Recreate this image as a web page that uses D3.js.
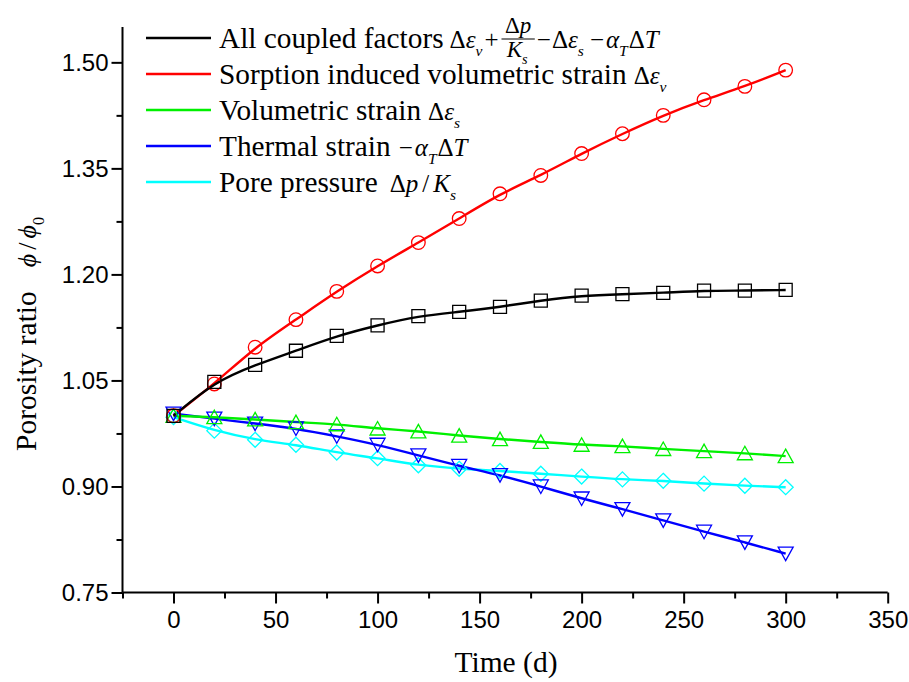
<!DOCTYPE html>
<html>
<head>
<meta charset="utf-8">
<script src="https://cdn.jsdelivr.net/npm/d3@7"></script>
<style>
  body { margin: 0; background: #fff; }
  svg { display: block; }
</style>
</head>
<body>
<svg id="chart" width="909" height="682"></svg>
<script>
// Time steps (days) at which the porosity ratio is reported
const time = [0, 20, 40, 60, 80, 100, 120, 140, 160, 180, 200, 220, 240, 260, 280, 300];

// Porosity ratio φ/φ0 for each mechanism
const allCoupled   = [1.000, 1.048, 1.072, 1.092, 1.113, 1.128, 1.141, 1.147, 1.154, 1.163, 1.170, 1.172, 1.174, 1.177, 1.177, 1.178];
const sorption     = [1.000, 1.045, 1.097, 1.136, 1.176, 1.212, 1.245, 1.279, 1.314, 1.340, 1.371, 1.399, 1.425, 1.447, 1.466, 1.489];
const volumetric   = [1.000, 0.998, 0.995, 0.991, 0.988, 0.982, 0.978, 0.972, 0.967, 0.963, 0.959, 0.957, 0.953, 0.950, 0.947, 0.943];
const thermal      = [1.003, 0.996, 0.989, 0.982, 0.971, 0.959, 0.944, 0.929, 0.916, 0.900, 0.883, 0.868, 0.852, 0.836, 0.821, 0.805];
const porePressure = [0.998, 0.979, 0.966, 0.959, 0.948, 0.940, 0.930, 0.925, 0.922, 0.918, 0.914, 0.910, 0.908, 0.904, 0.901, 0.899];

// Axis ticks
const xTicks = [0, 50, 100, 150, 200, 250, 300, 350];
const xMinorTicks = [-25, 25, 75, 125, 175, 225, 275, 325];
const yTicks = [0.75, 0.90, 1.05, 1.20, 1.35, 1.50];
const yMinorTicks = [0.825, 0.975, 1.125, 1.275, 1.425];

const SERIF = "'Liberation Serif', 'Times New Roman', serif";
const SANS = "'Liberation Sans', Arial, sans-serif";

const svg = d3.select("#chart");

const x = d3.scaleLinear().domain([-25, 350]).range([122.5, 887.7]);
const y = d3.scaleLinear().domain([0.75, 1.55]).range([592.5, 27.0]);

// ---- axes ----
const axisStroke = 2;

const yAxis = svg.append("g").attr("transform", `translate(${x(-25)},0)`)
  .call(d3.axisLeft(y).tickValues(yTicks).tickSize(11).tickPadding(3)
        .tickFormat(d3.format(".2f")));
const yMinor = svg.append("g").attr("transform", `translate(${x(-25)},0)`)
  .call(d3.axisLeft(y).tickValues(yMinorTicks).tickSize(6).tickFormat(""));

const xAxis = svg.append("g").attr("transform", `translate(0,${y(0.75)})`)
  .call(d3.axisBottom(x).tickValues(xTicks).tickSize(11).tickPadding(7)
        .tickFormat(d3.format("d")));
const xMinor = svg.append("g").attr("transform", `translate(0,${y(0.75)})`)
  .call(d3.axisBottom(x).tickValues(xMinorTicks).tickSize(6).tickFormat(""));

[yAxis, yMinor, xAxis, xMinor].forEach(g => {
  g.select(".domain").attr("stroke", "#000").attr("stroke-width", axisStroke);
  g.selectAll(".tick line").attr("stroke", "#000").attr("stroke-width", axisStroke);
  g.selectAll(".tick text").attr("fill", "#000")
    .style("font-family", SANS).style("font-size", "24px");
});
// the minor-tick axes only contribute ticks
yMinor.select(".domain").remove();
xMinor.select(".domain").remove();
// plain spines without end caps
xAxis.select(".domain").attr("d", `M${x(-25)},0H${x(350)}`);
yAxis.select(".domain").attr("d", `M0,${y(0.75)}V${y(1.55)}`);

// ---- rich text helper (plain, italic and subscript pieces laid out left to right) ----
function rich(g, x0, y0, pieces, size) {
  let cx = x0;
  pieces.forEach(p => {
    const fs = p.sub ? size * 0.62 : size;
    const t = g.append("text")
      .attr("x", cx + (p.before || 0))
      .attr("y", y0 + (p.sub ? size * 0.32 : 0))
      .style("font-family", SERIF)
      .style("font-size", fs + "px")
      .style("font-style", p.it ? "italic" : "normal")
      .attr("fill", "#000")
      .text(p.t);
    cx += (p.before || 0) + t.node().getComputedTextLength() + (p.after || 0);
  });
  return cx;
}

// ---- series ----
const series = [
  { values: allCoupled,   color: "#000000", marker: "square" },
  { values: sorption,     color: "#ff0000", marker: "circle" },
  { values: volumetric,   color: "#00f000", marker: "triangleUp" },
  { values: thermal,      color: "#0000ff", marker: "triangleDown" },
  { values: porePressure, color: "#00ffff", marker: "diamond" }
];

const line = d3.line()
  .x((d, i) => x(time[i]))
  .y(d => y(d))
  .curve(d3.curveBasis);

function markerPath(type) {
  switch (type) {
    case "square": return "M-6.5,-6.5H6.5V6.5H-6.5Z";
    case "circle": return "M6.8,0A6.8,6.8 0 1 1 -6.8,0A6.8,6.8 0 1 1 6.8,0Z";
    case "triangleUp": return "M0,-7L7.5,6.5H-7.5Z";
    case "triangleDown": return "M0,7L7.5,-6.5H-7.5Z";
    case "diamond": return "M0,-7.5L7.5,0L0,7.5L-7.5,0Z";
  }
}

// lines first, then hollow markers on top
const plot = svg.append("g");
series.slice().reverse().forEach(s => {
  plot.append("path")
    .datum(s.values)
    .attr("d", line)
    .attr("fill", "none")
    .attr("stroke", s.color)
    .attr("stroke-width", 2.4);
});
series.slice().reverse().forEach(s => {
  plot.append("g").selectAll("path")
    .data(s.values)
    .join("path")
    .attr("transform", (d, i) => `translate(${x(time[i])},${y(d)})`)
    .attr("d", markerPath(s.marker))
    .attr("fill", "none")
    .attr("stroke", s.color)
    .attr("stroke-width", 1.3);
});

// ---- legend ----
const legend = svg.append("g");
const rowY = [38, 74, 110, 146, 182];
const textSize = 29.3;
const mathSize = 25;
const fracSize = 23;
const labels = [
  "All coupled factors",
  "Sorption induced volumetric strain",
  "Volumetric strain",
  "Thermal strain",
  "Pore pressure"
];
const mathGap = [6, 7, 7, 8, 12];

series.forEach((s, i) => {
  legend.append("line")
    .attr("x1", 146).attr("x2", 211)
    .attr("y1", rowY[i]).attr("y2", rowY[i])
    .attr("stroke", s.color).attr("stroke-width", 2.4);
});

labels.forEach((lab, i) => {
  const base = rowY[i] + 9.5;
  const endX = rich(legend, 219, base, [{ t: lab }], textSize);
  const mx = endX + mathGap[i];
  if (i === 0) {
    // Δεv + Δp/Ks − Δεs − αTΔT
    const cx = rich(legend, mx, base, [
      { t: "Δ" }, { t: "ε", it: true }, { t: "v", it: true, sub: true, after: 2 },
      { t: "+", after: 2 }
    ], mathSize);
    // fraction Δp / Ks
    const fx = cx + 1;
    const num = legend.append("g");
    const numEnd = rich(num, 0, 0, [{ t: "Δ" }, { t: "p", it: true }], fracSize);
    const den = legend.append("g");
    const denEnd = rich(den, 0, 0, [{ t: "K", it: true }, { t: "s", it: true, sub: true }], fracSize);
    const fw = Math.max(numEnd, denEnd) + 7;
    num.attr("transform", `translate(${fx + (fw - numEnd) / 2},${base - 14.5})`);
    den.attr("transform", `translate(${fx + (fw - denEnd) / 2 - 1},${base + 9.5})`);
    legend.append("line")
      .attr("x1", fx).attr("x2", fx + fw)
      .attr("y1", base - 8.5).attr("y2", base - 8.5)
      .attr("stroke", "#000").attr("stroke-width", 1.2);
    rich(legend, fx + fw + 2, base, [
      { t: "−", after: 1 }, { t: "Δ" }, { t: "ε", it: true }, { t: "s", it: true, sub: true, after: 6 },
      { t: "−", after: 2 }, { t: "α", it: true }, { t: "T", it: true, sub: true, after: 1 }, { t: "Δ" }, { t: "T", it: true }
    ], mathSize);
  } else if (i === 1) {
    rich(legend, mx, base, [{ t: "Δ" }, { t: "ε", it: true }, { t: "v", it: true, sub: true }], mathSize);
  } else if (i === 2) {
    rich(legend, mx, base, [{ t: "Δ" }, { t: "ε", it: true }, { t: "s", it: true, sub: true }], mathSize);
  } else if (i === 3) {
    rich(legend, mx, base, [{ t: "−", after: 2 }, { t: "α", it: true }, { t: "T", it: true, sub: true, after: 1 }, { t: "Δ" }, { t: "T", it: true }], mathSize);
  } else {
    rich(legend, mx, base, [{ t: "Δ" }, { t: "p", it: true, after: 4 }, { t: "/", after: 4 }, { t: "K", it: true }, { t: "s", it: true, sub: true }], mathSize);
  }
});

// ---- axis titles ----
svg.append("text")
  .attr("x", 506).attr("y", 672)
  .attr("text-anchor", "middle")
  .style("font-family", SERIF).style("font-size", "29.5px")
  .attr("fill", "#000")
  .text("Time (d)");

const yTitle = svg.append("g").attr("transform", "translate(36,0) rotate(-90)");
const afterLabel = rich(yTitle, -451, 0, [{ t: "Porosity ratio" }], 29.5);
rich(yTitle, afterLabel + 24, 0, [
  { t: "ϕ", it: true, after: 4 }, { t: "/", after: 4 }, { t: "ϕ", it: true }, { t: "0", sub: true }
], 26);
</script>
</body>
</html>
